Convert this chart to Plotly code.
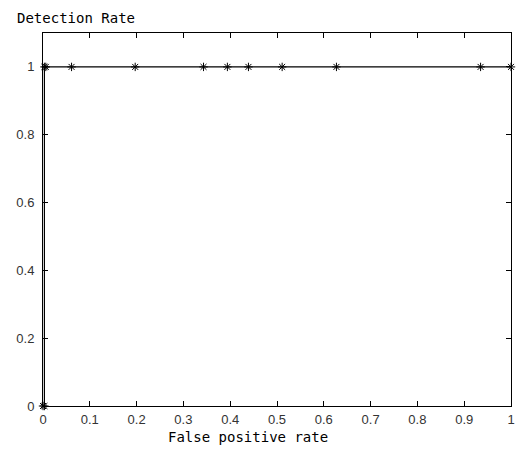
import plotly.graph_objects as go

fpr = [0.0, 0.003, 0.003, 0.006, 0.061, 0.197, 0.343, 0.394, 0.439, 0.511, 0.627, 0.935, 1.0]
tpr = [0.0, 0.0, 1.0, 1.0, 1.0, 1.0, 1.0, 1.0, 1.0, 1.0, 1.0, 1.0, 1.0]
xticks = [0, 0.1, 0.2, 0.3, 0.4, 0.5, 0.6, 0.7, 0.8, 0.9, 1]
xticklabels = ["0", "0.1", "0.2", "0.3", "0.4", "0.5", "0.6", "0.7", "0.8", "0.9", "1"]
yticks = [0, 0.2, 0.4, 0.6, 0.8, 1]
yticklabels = ["0", "0.2", "0.4", "0.6", "0.8", "1"]

fig = go.Figure()
fig.add_trace(go.Scatter(
    x=fpr, y=tpr, mode="lines+markers",
    line=dict(color="black", width=1.2),
    marker=dict(symbol="asterisk-open", size=7, color="black",
                line=dict(color="black", width=1)),
    showlegend=False, cliponaxis=False,
))

axis_common = dict(
    showline=True, linecolor="black", linewidth=1, mirror="ticks",
    ticks="inside", ticklen=5, tickcolor="black",
    showgrid=False, zeroline=False, automargin=False,
    ticklabeloverflow="allow",
    tickfont=dict(family="Liberation Sans, Arial, sans-serif", size=13, color="#333"),
)

mono = dict(family="DejaVu Sans Mono, monospace", size=14, color="black")

fig.update_layout(
    width=516, height=449,
    margin=dict(l=43, r=5, t=33, b=43),
    paper_bgcolor="white", plot_bgcolor="white",
    xaxis=dict(range=[0, 1], tickvals=xticks, ticktext=xticklabels,
               ticklabelstandoff=1, **axis_common),
    yaxis=dict(range=[0, 1.1], tickvals=yticks, ticktext=yticklabels,
               ticklabelstandoff=5, **axis_common),
    annotations=[
        dict(text="Detection Rate", xref="paper", yref="paper",
             x=0, y=1 + 15 / 373, xanchor="left", yanchor="middle",
             xshift=-28, showarrow=False, font=mono),
        dict(text="False positive rate", xref="paper", yref="paper",
             x=(248 - 43) / 468, y=-31 / 373, xanchor="center", yanchor="middle",
             showarrow=False, font=mono),
    ],
)

fig.write_html("out.html", config={"displayModeBar": False},
               post_script="document.body.style.margin='0';document.body.style.padding='0';")
